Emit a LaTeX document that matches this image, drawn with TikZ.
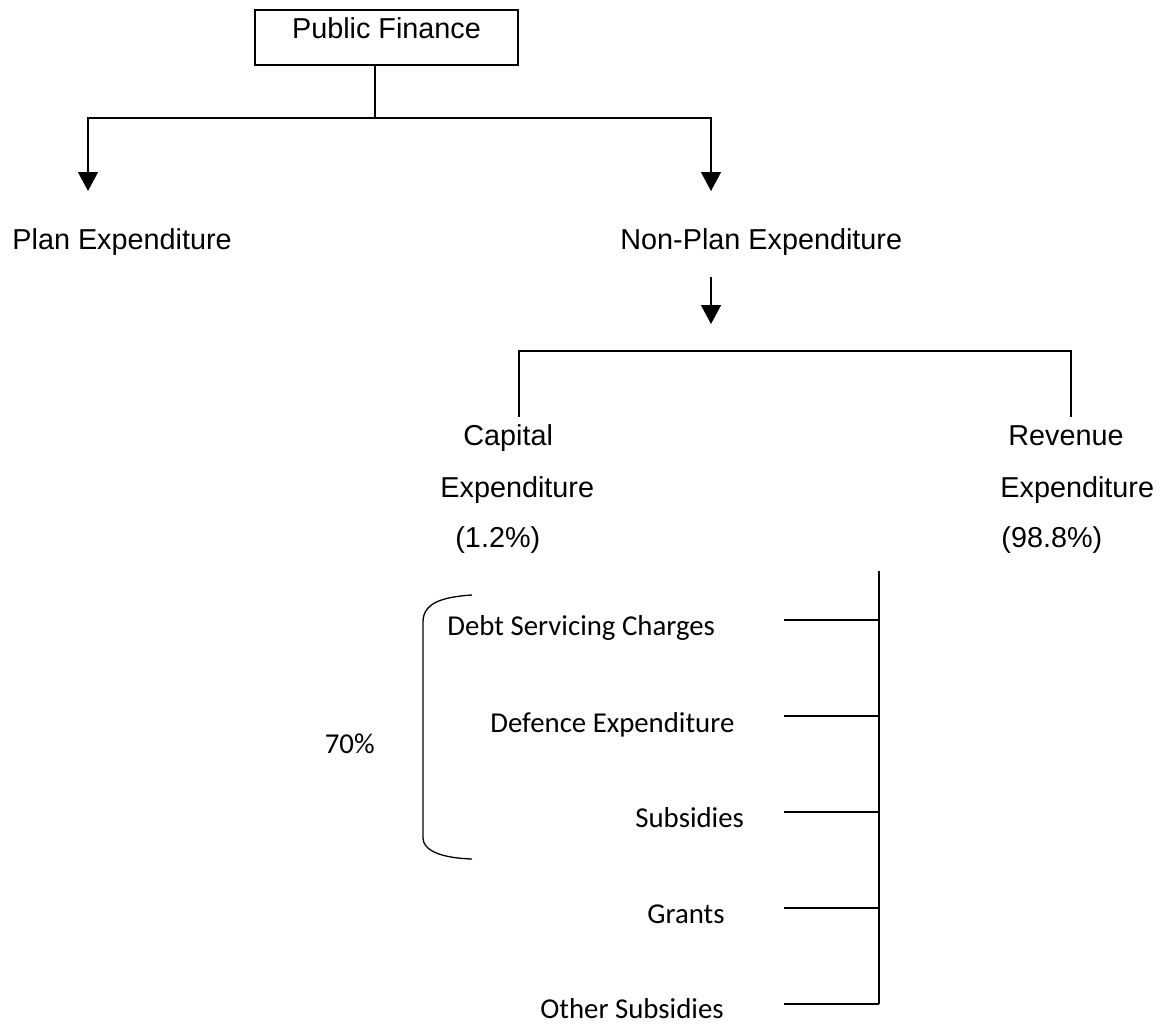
\documentclass[tikz,border=0pt]{standalone}
\usepackage{fontspec}
\setmainfont{Liberation Sans}
\newfontfamily\calibri{Carlito}
\usetikzlibrary{arrows.meta, positioning, calc}
\tikzset{
  headtext/.style={font=\fontsize{14.4}{17}\selectfont, inner sep=0pt, anchor=base west},
  itemtext/.style={font=\calibri\fontsize{14.4}{17}\selectfont, inner sep=0pt, anchor=base west},
  link/.style={line width=0.65pt},
  arrowlink/.style={link, -{Triangle[width=10pt, length=9.5pt]}},
  topbox/.style={draw, line width=0.65pt, inner sep=0pt, minimum width=131.5pt, text height=14pt, text depth=13.5pt, anchor=base, font=\fontsize{14.4}{17}\selectfont}
}

\begin{document}
\begin{tikzpicture}[x=0.5pt, y=-0.5pt]
    \useasboundingbox (0,0) rectangle (1167,1023);

    % Top box and first split
    \node[topbox] (pf) at (386.5,38) {Public Finance};
    \coordinate (split) at (375,118);
    \coordinate (planend) at (88,191);
    \coordinate (nonplanend) at (711,191);
    \draw[link] (pf.south -| split) -- (split);
    \draw[arrowlink] (split) -| (planend);
    \draw[arrowlink] (split) -| (nonplanend);

    \node[headtext] (plan) at (12,249) {Plan Expenditure};
    \node[headtext] (nonplan) at (620,249) {Non-Plan Expenditure};

    % Non-plan split
    \coordinate (npstart) at (711,277);
    \coordinate (npend) at (711,324);
    \draw[arrowlink] (npstart) -- (npend);
    \coordinate (barl) at (519,351);
    \coordinate (barr) at (1071,351);
    \coordinate (capin) at (519,417);
    \coordinate (revin) at (1071,417);
    \draw[link] (capin) -- (barl) -- (barr) -- (revin);

    \node[headtext] (cap1) at (463,445) {Capital};
    \node[headtext] (cap2) at (440,497) {Expenditure};
    \node[headtext] (cap3) at (455,547) {(1.2\%)};
    \node[headtext] (rev1) at (1008,445) {Revenue};
    \node[headtext] (rev2) at (1000,497) {Expenditure};
    \node[headtext] (rev3) at (1001,547) {(98.8\%)};

    % Revenue items
    \coordinate (rtop) at (879,571);
    \coordinate (rbot) at (879,1004);
    \draw[link] (rtop) -- (rbot);
    \foreach \yy [count=\i] in {620,716,812,908,1004} {
        \coordinate (b\i) at (784,\yy);
        \draw[link] (b\i) -- (b\i -| rtop);
    }

    \node[itemtext] (debt) at (447,635) {Debt Servicing Charges};
    \node[itemtext] (defence) at (490,732) {Defence Expenditure};
    \node[itemtext] (subs) at (635,827) {Subsidies};
    \node[itemtext] (grants) at (647,923) {Grants};
    \node[itemtext] (other) at (540,1018) {Other Subsidies};

    % Brace for the first three items
    \draw[link] (472,595) .. controls (440,597) and (423,604) .. (423,622) -- (423,838) .. controls (423,850) and (440,858) .. (472,859);
    \node[itemtext, anchor=base east] (share) at (375,753) {70\%};
\end{tikzpicture}
\end{document}
